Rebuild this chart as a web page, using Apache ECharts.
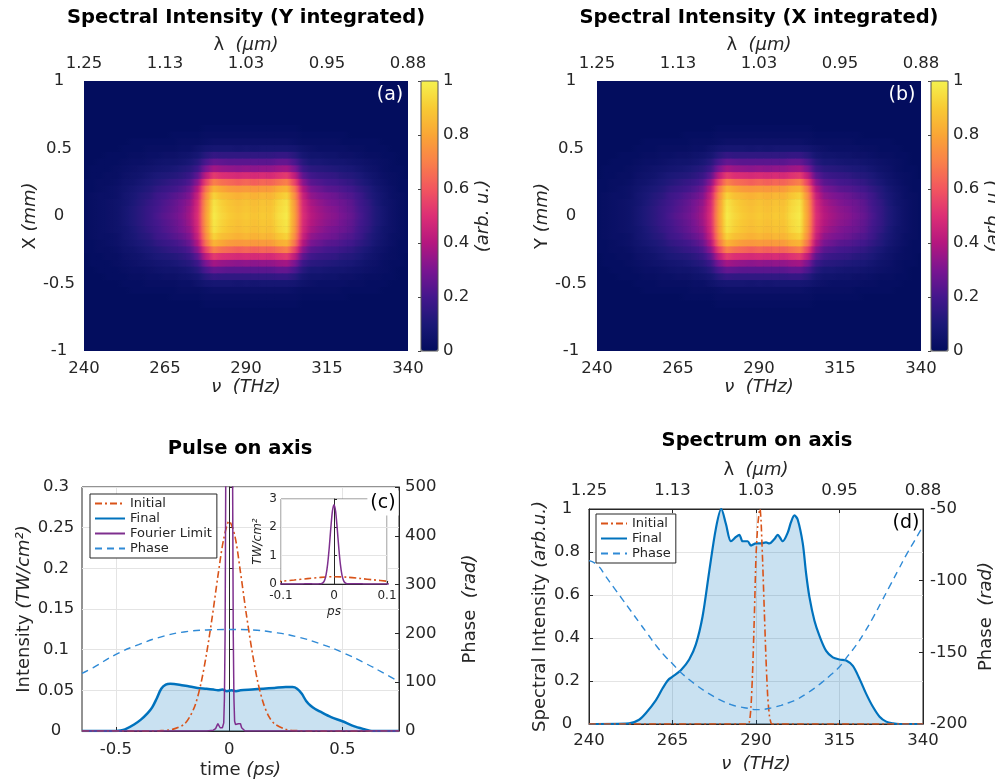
<!DOCTYPE html>
<html>
<head>
<meta charset="utf-8">
<title>Spectral broadening</title>
<script src="https://cdn.jsdelivr.net/npm/echarts@6/dist/echarts.min.js"></script>
<style>
  html, body { margin: 0; padding: 0; background: #ffffff; }
  #chart { width: 995px; height: 782px; }
</style>
</head>
<body>
<div id="chart"></div>
<script>
// ---------- shared frequency / wavelength ticks ----------
const nuTicks = [240, 265, 290, 315, 340];
const lambdaLabels = ['1.25', '1.13', '1.03', '0.95', '0.88'];
const pulseTimeTicks = [-0.5, 0, 0.5];

// ---------- spectral intensity maps (frequency columns x transverse rows) ----------
const mapNu = [240, 242.5, 245, 247.5, 250, 252.5, 255, 257.5, 260, 262.5, 265, 267.5, 270, 272.5, 275,
  277.5, 280, 282.5, 285, 287.5, 290, 292.5, 295, 297.5, 300, 302.5, 305, 307.5, 310, 312.5, 315, 317.5,
  320, 322.5, 325, 327.5, 330, 332.5, 335, 337.5, 340];
const mapPos = [0.65, 0.6, 0.55, 0.5, 0.45, 0.4, 0.35, 0.3, 0.25, 0.2, 0.15, 0.1, 0.05, 0,
  -0.05, -0.1, -0.15, -0.2, -0.25, -0.3, -0.35, -0.4, -0.45, -0.5, -0.55, -0.6, -0.65];

const row000 = [0.01,0.02,0.03,0.04,0.05,0.08,0.11,0.14,0.17,0.21,0.24,0.27,0.31,0.37,0.50,0.78,0.98,0.93,0.90,0.88,0.90,0.88,0.90,0.89,0.95,0.98,0.78,0.50,0.41,0.37,0.34,0.32,0.29,0.26,0.21,0.16,0.11,0.07,0.04,0.02,0.01];
const row005 = [0.01,0.02,0.03,0.04,0.05,0.08,0.11,0.14,0.17,0.20,0.23,0.26,0.30,0.36,0.49,0.77,0.97,0.92,0.89,0.87,0.89,0.87,0.89,0.88,0.94,0.97,0.77,0.49,0.40,0.36,0.33,0.31,0.28,0.25,0.20,0.16,0.11,0.07,0.04,0.02,0.01];
const row010 = [0.01,0.02,0.03,0.04,0.05,0.07,0.10,0.13,0.16,0.19,0.22,0.25,0.29,0.34,0.48,0.76,0.96,0.91,0.88,0.86,0.88,0.86,0.88,0.87,0.93,0.96,0.76,0.48,0.38,0.34,0.31,0.29,0.27,0.24,0.19,0.15,0.10,0.06,0.04,0.02,0.01];
const row015 = [0.01,0.02,0.03,0.03,0.04,0.07,0.09,0.12,0.14,0.18,0.20,0.23,0.26,0.31,0.45,0.73,0.92,0.87,0.85,0.83,0.85,0.83,0.85,0.84,0.89,0.92,0.73,0.45,0.34,0.31,0.29,0.27,0.24,0.22,0.18,0.13,0.09,0.06,0.03,0.02,0.01];
const row020 = [0.01,0.01,0.02,0.03,0.04,0.06,0.08,0.10,0.12,0.15,0.17,0.19,0.22,0.27,0.40,0.67,0.84,0.80,0.77,0.76,0.77,0.76,0.77,0.77,0.82,0.84,0.67,0.40,0.30,0.27,0.24,0.23,0.21,0.19,0.15,0.12,0.08,0.05,0.03,0.01,0.01];
const row025 = [0.01,0.01,0.02,0.02,0.03,0.05,0.06,0.08,0.10,0.12,0.14,0.16,0.18,0.22,0.33,0.55,0.70,0.66,0.64,0.62,0.64,0.62,0.64,0.63,0.67,0.70,0.55,0.33,0.24,0.22,0.20,0.19,0.17,0.15,0.12,0.09,0.06,0.04,0.02,0.01,0.01];
const row030 = [0,0.01,0.01,0.02,0.02,0.04,0.05,0.06,0.08,0.10,0.11,0.12,0.14,0.17,0.25,0.42,0.53,0.50,0.49,0.48,0.49,0.48,0.49,0.48,0.51,0.53,0.42,0.25,0.19,0.17,0.16,0.15,0.13,0.12,0.10,0.07,0.05,0.03,0.02,0.01,0];
const row035 = [0,0.01,0.01,0.01,0.02,0.03,0.04,0.05,0.06,0.07,0.08,0.09,0.11,0.13,0.18,0.30,0.37,0.35,0.34,0.33,0.34,0.33,0.34,0.34,0.36,0.37,0.30,0.18,0.14,0.13,0.12,0.11,0.10,0.09,0.07,0.05,0.04,0.02,0.01,0.01,0];
const row040 = [0,0,0.01,0.01,0.01,0.02,0.03,0.03,0.04,0.05,0.06,0.06,0.07,0.09,0.13,0.21,0.26,0.25,0.24,0.24,0.24,0.24,0.24,0.24,0.26,0.26,0.21,0.13,0.09,0.09,0.08,0.07,0.07,0.06,0.05,0.04,0.03,0.02,0.01,0,0];
const row045 = [0,0,0,0.01,0.01,0.01,0.02,0.02,0.03,0.03,0.04,0.04,0.05,0.06,0.08,0.13,0.16,0.15,0.15,0.15,0.15,0.15,0.15,0.15,0.16,0.16,0.13,0.08,0.06,0.06,0.05,0.05,0.04,0.04,0.03,0.02,0.02,0.01,0.01,0,0];
const row050 = [0,0,0,0,0,0.01,0.01,0.01,0.02,0.02,0.02,0.02,0.03,0.03,0.05,0.07,0.08,0.08,0.08,0.07,0.08,0.07,0.08,0.08,0.08,0.08,0.07,0.05,0.04,0.03,0.03,0.03,0.03,0.02,0.02,0.01,0.01,0.01,0,0,0];
const row055 = [0,0,0,0,0,0,0.01,0.01,0.01,0.01,0.01,0.01,0.02,0.02,0.02,0.03,0.04,0.04,0.04,0.04,0.04,0.04,0.04,0.04,0.04,0.04,0.03,0.02,0.02,0.02,0.02,0.02,0.01,0.01,0.01,0.01,0.01,0,0,0,0];
const row060 = [0,0,0,0,0,0,0,0,0,0,0,0.01,0.01,0.01,0.01,0.02,0.02,0.02,0.02,0.02,0.02,0.02,0.02,0.02,0.02,0.02,0.02,0.01,0.01,0.01,0.01,0.01,0.01,0,0,0,0,0,0,0,0];
const row065 = [0,0,0,0,0,0,0,0,0,0,0,0,0,0,0,0.01,0.01,0.01,0.01,0.01,0.01,0.01,0.01,0.01,0.01,0.01,0.01,0,0,0,0,0,0,0,0,0,0,0,0,0,0];

// rows ordered as mapPos (top to bottom); the beam is symmetric about the axis
const mapRows = [row065, row060, row055, row050, row045, row040, row035, row030, row025, row020, row015, row010, row005,
  row000, row005, row010, row015, row020, row025, row030, row035, row040, row045, row050, row055, row060, row065];

// ---------- pulse on axis ----------
const pulseTimeInitial = [-0.65, -0.35, -0.3, -0.25, -0.2, -0.175, -0.15, -0.125, -0.1, -0.075, -0.05, -0.025, 0,
  0.025, 0.05, 0.075, 0.1, 0.125, 0.15, 0.175, 0.2, 0.25, 0.3, 0.35, 0.75];
const pulseInitial = [0, 0, 0.0005, 0.002, 0.008, 0.017, 0.032, 0.058, 0.095, 0.14, 0.19, 0.235, 0.258,
  0.24, 0.195, 0.145, 0.1, 0.062, 0.035, 0.018, 0.009, 0.002, 0.0005, 0, 0];

const pulseTimeFinal = [-0.65, -0.5, -0.48, -0.46, -0.42, -0.39, -0.36, -0.34, -0.32, -0.3, -0.28, -0.26, -0.22, -0.18,
  -0.14, -0.1, -0.07, -0.05, -0.03, -0.01, 0.01, 0.03, 0.05, 0.1, 0.15, 0.2, 0.25, 0.28, 0.3, 0.32, 0.34, 0.36,
  0.38, 0.4, 0.45, 0.5, 0.55, 0.6, 0.63, 0.75];
const pulseFinal = [0, 0, 0.0005, 0.002, 0.008, 0.014, 0.022, 0.029, 0.04, 0.052, 0.057, 0.058, 0.057, 0.055,
  0.053, 0.052, 0.051, 0.05, 0.051, 0.049, 0.05, 0.049, 0.05, 0.051, 0.052, 0.053, 0.054, 0.054, 0.052, 0.046,
  0.037, 0.031, 0.027, 0.024, 0.017, 0.012, 0.006, 0.002, 0, 0];

const pulseTimeFourier = [-0.65, -0.1, -0.07, -0.06, -0.055, -0.05, -0.045, -0.04, -0.035, -0.03, -0.027, -0.024,
  -0.021, -0.018, -0.015, -0.012, -0.009, -0.006, -0.003, 0, 0.003, 0.006, 0.009, 0.012, 0.015, 0.018, 0.021,
  0.024, 0.028, 0.032, 0.036, 0.04, 0.045, 0.05, 0.055, 0.06, 0.07, 0.1, 0.75];
const pulseFourier = [0, 0, 0.001, 0.003, 0.006, 0.009, 0.008, 0.004, 0.002, 0.004, 0.006, 0.01,
  0.04, 0.12, 0.32, 0.7, 1.28, 1.98, 2.57, 2.8, 2.57, 1.98, 1.28, 0.7, 0.32, 0.12, 0.04,
  0.012, 0.008, 0.01, 0.006, 0.009, 0.007, 0.009, 0.004, 0.002, 0, 0, 0];

const pulseTimePhase = [-0.65, -0.6, -0.5, -0.4, -0.3, -0.2, -0.1, 0, 0.1, 0.2, 0.3, 0.4, 0.5, 0.6, 0.7, 0.75];
const pulsePhase = [118, 130, 157, 177, 193, 203, 207, 208, 207, 202, 193, 179, 161, 139, 114, 101];

// ---------- spectrum on axis ----------
const specNuFinal = [240, 252, 255, 257, 260, 262, 263.7, 265, 267.5, 270, 272, 274, 276, 278, 279.6, 281, 282.5,
  284, 285, 286, 287.5, 288.5, 290, 291.5, 293, 294, 295.5, 296.5, 298, 299.5, 300.5, 301.5, 302.5, 304, 305,
  306, 307.5, 309, 311, 313, 315, 317, 319, 321, 323, 325, 327, 329, 331, 333, 340];
const specFinal = [0, 0.003, 0.02, 0.05, 0.11, 0.165, 0.205, 0.22, 0.25, 0.3, 0.37, 0.5, 0.71, 0.91, 1.0, 0.93, 0.85,
  0.87, 0.88, 0.85, 0.85, 0.83, 0.84, 0.84, 0.845, 0.84, 0.86, 0.88, 0.85, 0.89, 0.94, 0.97, 0.95, 0.84, 0.7,
  0.59, 0.48, 0.41, 0.34, 0.31, 0.3, 0.295, 0.27, 0.21, 0.14, 0.08, 0.034, 0.011, 0.003, 0, 0];

const specNuInitial = [240, 287, 288, 288.5, 289, 289.5, 290, 290.5, 291, 291.2, 291.5, 292, 292.5, 293, 293.5,
  294, 294.5, 295, 340];
const specInitial = [0, 0, 0.01, 0.08, 0.25, 0.5, 0.78, 0.92, 0.99, 1.0, 0.95, 0.75, 0.52, 0.3, 0.13,
  0.04, 0.005, 0, 0];

const specNuPhase = [240, 242.5, 245, 247.5, 250, 252.5, 255, 257.5, 260, 262.5, 265, 267.5, 270, 272.5, 275,
  277.5, 280, 282.5, 285, 287.5, 290, 292.5, 295, 297.5, 300, 302.5, 305, 307.5, 310, 312.5, 315, 317.5,
  320, 322.5, 325, 327.5, 330, 332.5, 335, 337.5, 340];
const specPhase = [-86, -89, -97, -105, -113, -121, -129, -137, -145, -152, -158, -164, -169, -173.5, -177.5,
  -181, -184, -186.5, -188, -189, -190, -189.7, -188.5, -187, -185, -182.5, -179, -175, -170.5, -165.5, -160, -152.5,
  -145, -136, -126, -115, -104, -93, -82, -72, -62];

// ---------- styling ----------
const FONT = "'DejaVu Sans', sans-serif";
const INK = '#262626';
const GRIDLINE = '#e4e4e4';
const TICK_SIZE = 16.5;
const NAME_SIZE = 18;
const TITLE_FONT = 'bold 19.5px "DejaVu Sans"';
const C_FINAL = '#0072BD';
const C_INITIAL = '#D95319';
const C_FOURIER = '#7E2F8E';
const C_PHASE = '#2f8ad6';
const DASH_DOT = [7, 3, 2, 3];
const DASH = [7, 5];
const mapColors = ['#030d5e', '#1b1877', '#44178c', '#7a1591', '#b4177f', '#dc2e75',
  '#f2565f', '#f9804a', '#f9a636', '#f8ca34', '#f5f24e'];

const pairs = (xs, ys) => xs.map((x, i) => [x, ys[i]]);

const mapData = [];
mapRows.forEach((row, i) => row.forEach((v, j) => mapData.push([mapNu[j], mapPos[i], v])));
const CELL_NU = mapNu[1] - mapNu[0];
const CELL_POS = mapPos[0] - mapPos[1];

function mapColour(v) {
  return echarts.color.lerp(Math.max(0, Math.min(1, v)), mapColors);
}

// one map cell; shaded across its width towards its neighbours, like interpolated image shading
function renderMapCell(params, api) {
  const nCols = mapNu.length;
  const row = mapRows[Math.floor(params.dataIndex / nCols)];
  const j = params.dataIndex % nCols;
  const v = api.value(2);
  const vl = j > 0 ? row[j - 1] : v;
  const vr = j < nCols - 1 ? row[j + 1] : v;
  const centre = api.coord([api.value(0), api.value(1)]);
  const size = api.size([CELL_NU, CELL_POS]);
  const cs = params.coordSys;
  const shape = echarts.graphic.clipRectByRect(
    { x: centre[0] - size[0] / 2, y: centre[1] - size[1] / 2, width: size[0] + 0.6, height: size[1] + 0.6 },
    { x: cs.x, y: cs.y, width: cs.width, height: cs.height });
  if (!shape) return null;
  return {
    type: 'rect', shape: shape,
    style: {
      fill: {
        type: 'linear', x: 0, y: 0, x2: 1, y2: 0, global: false,
        colorStops: [
          { offset: 0, color: mapColour((vl + v) / 2) },
          { offset: 0.5, color: mapColour(v) },
          { offset: 1, color: mapColour((v + vr) / 2) }
        ]
      }
    }
  };
}

function txt(size, extra) {
  return Object.assign({ fontFamily: FONT, fontSize: size, color: INK }, extra || {});
}
function nameStyle(size) {
  return txt(size, {
    rich: {
      n: txt(size),
      i: txt(size, { fontStyle: 'italic' })
    }
  });
}
const noSplit = { show: false };
const split = { show: true, lineStyle: { color: GRIDLINE, width: 1 } };
const inTick = { show: true, inside: true, length: 4, lineStyle: { color: INK } };

// spectral map axes (bottom frequency, top wavelength, transverse position)
function mapXAxes(gridIndex) {
  return [
    {
      gridIndex, type: 'value', min: 240, max: 340, position: 'bottom',
      axisLine: { show: false }, axisTick: { show: false }, splitLine: noSplit,
      axisLabel: Object.assign(txt(TICK_SIZE), { customValues: nuTicks, margin: 9 }),
      name: '{i|ν}  {i|(THz)}', nameLocation: 'middle', nameGap: 27, nameTextStyle: nameStyle(NAME_SIZE)
    },
    {
      gridIndex, type: 'value', min: 240, max: 340, position: 'top',
      axisLine: { show: false }, axisTick: { show: false }, splitLine: noSplit,
      axisLabel: Object.assign(txt(TICK_SIZE), {
        customValues: nuTicks, margin: 9,
        formatter: (v) => lambdaLabels[nuTicks.indexOf(v)]
      }),
      name: '{n|λ}  {i|(μm)}', nameLocation: 'middle', nameGap: 27, nameTextStyle: nameStyle(NAME_SIZE)
    }
  ];
}
function mapYAxis(gridIndex, label, gap, margin) {
  return {
    gridIndex, type: 'value', min: -1, max: 1, interval: 0.5,
    axisLine: { show: false }, axisTick: { show: false }, splitLine: noSplit,
    axisLabel: Object.assign(txt(TICK_SIZE), { align: 'center', margin: margin }),
    name: label, nameLocation: 'middle', nameRotate: 90, nameGap: gap, nameTextStyle: nameStyle(NAME_SIZE)
  };
}
function colorbarAxes(gridIndex, gap) {
  return {
    x: { gridIndex, type: 'value', min: 0, max: 1, show: false },
    y: {
      gridIndex, type: 'value', min: 0, max: 1, interval: 0.2, position: 'right',
      axisLine: { show: false },
      axisTick: { show: true, inside: true, length: 3, lineStyle: { color: '#444' } },
      splitLine: noSplit,
      axisLabel: Object.assign(txt(TICK_SIZE), { align: 'left', margin: 5 }),
      name: '{i|(arb. u.)}', nameLocation: 'middle', nameRotate: 90, nameGap: gap, nameTextStyle: nameStyle(NAME_SIZE)
    }
  };
}
const cbA = colorbarAxes(1, 36);
const cbB = colorbarAxes(3, 36);

const legendBase = {
  orient: 'vertical', itemHeight: 14, itemGap: 2, selectedMode: false, backgroundColor: '#ffffff',
  borderColor: INK, borderWidth: 1, borderRadius: 0, padding: [3, 5, 3, 4], z: 10,
  itemStyle: { opacity: 0 },
  textStyle: txt(13)
};

const option = {
  animation: false,
  backgroundColor: '#ffffff',
  grid: [
    { left: 84, top: 81, width: 324, height: 270, show: true, backgroundColor: mapColors[0], borderWidth: 0, outerBoundsMode: 'none' },
    { left: 421, top: 81, width: 17, height: 270, show: true, z: 5, backgroundColor: 'transparent', borderColor: '#555', borderWidth: 1, outerBoundsMode: 'none' },
    { left: 597, top: 81, width: 324, height: 270, show: true, backgroundColor: mapColors[0], borderWidth: 0, outerBoundsMode: 'none' },
    { left: 931, top: 81, width: 17, height: 270, show: true, z: 5, backgroundColor: 'transparent', borderColor: '#555', borderWidth: 1, outerBoundsMode: 'none' },
    { left: 82, top: 487, width: 317, height: 244, show: true, borderColor: INK, borderWidth: 1, outerBoundsMode: 'none' },
    { left: 281, top: 499, width: 106, height: 85, show: true, z: 3, backgroundColor: '#ffffff', borderColor: '#777', borderWidth: 1, outerBoundsMode: 'none' },
    { left: 589, top: 509, width: 334, height: 215, show: true, borderColor: INK, borderWidth: 1, outerBoundsMode: 'none' }
  ],
  xAxis: [
    ...mapXAxes(0),               // 0, 1
    ...mapXAxes(2),               // 2, 3
    {                             // 4: pulse time
      gridIndex: 4, type: 'value', min: -0.65, max: 0.75,
      axisLine: { lineStyle: { color: INK } },
      axisTick: Object.assign({}, inTick, { customValues: pulseTimeTicks }),
      splitLine: split,
      axisLabel: Object.assign(txt(TICK_SIZE), { customValues: pulseTimeTicks, margin: 10 }),
      name: '{n|time }{i|(ps)}', nameLocation: 'middle', nameGap: 30, nameTextStyle: nameStyle(NAME_SIZE)
    },
    {                             // 5: inset time
      gridIndex: 5, type: 'value', min: -0.1, max: 0.1, interval: 0.1, z: 4,
      axisLine: { lineStyle: { color: INK } },
      axisTick: { show: true, inside: true, length: 3, lineStyle: { color: INK } },
      splitLine: split,
      axisLabel: Object.assign(txt(12), { margin: 6 }),
      name: '{i|ps}', nameLocation: 'middle', nameGap: 22, nameTextStyle: nameStyle(12)
    },
    {                             // 6: spectrum frequency
      gridIndex: 6, type: 'value', min: 240, max: 340,
      axisLine: { lineStyle: { color: INK } },
      axisTick: Object.assign({}, inTick, { customValues: nuTicks }),
      splitLine: split,
      axisLabel: Object.assign(txt(TICK_SIZE), { customValues: nuTicks, margin: 8 }),
      name: '{i|ν}  {i|(THz)}', nameLocation: 'middle', nameGap: 31, nameTextStyle: nameStyle(NAME_SIZE)
    },
    {                             // 7: spectrum wavelength
      gridIndex: 6, type: 'value', min: 240, max: 340, position: 'top',
      axisLine: { lineStyle: { color: INK } },
      axisTick: Object.assign({}, inTick, { customValues: nuTicks }),
      splitLine: noSplit,
      axisLabel: Object.assign(txt(TICK_SIZE), {
        customValues: nuTicks, margin: 10,
        formatter: (v) => lambdaLabels[nuTicks.indexOf(v)]
      }),
      name: '{n|λ}  {i|(μm)}', nameLocation: 'middle', nameGap: 30, nameTextStyle: nameStyle(NAME_SIZE)
    },
    cbA.x,                        // 8
    cbB.x                         // 9
  ],
  yAxis: [
    mapYAxis(0, '{n|X }{i|(mm)}', 41, 25),  // 0
    cbA.y,                                   // 1
    mapYAxis(2, '{n|Y }{i|(mm)}', 43, 26),  // 2
    cbB.y,                                   // 3
    {                                        // 4: pulse intensity
      gridIndex: 4, type: 'value', min: 0, max: 0.3, interval: 0.05,
      axisLine: { show: true, lineStyle: { color: INK } }, axisTick: inTick, splitLine: split,
      axisLabel: Object.assign(txt(TICK_SIZE), { align: 'center', margin: 26 }),
      name: '{n|Intensity }{i|(TW/cm²)}', nameLocation: 'middle', nameRotate: 90, nameGap: 49, nameTextStyle: nameStyle(NAME_SIZE)
    },
    {                                        // 5: pulse phase
      gridIndex: 4, type: 'value', min: 0, max: 500, interval: 100, position: 'right',
      axisLine: { show: true, lineStyle: { color: INK } }, axisTick: inTick, splitLine: noSplit,
      axisLabel: Object.assign(txt(TICK_SIZE), { align: 'left', margin: 6 }),
      name: '{n|Phase  }{i|(rad)}', nameLocation: 'middle', nameRotate: 90, nameGap: 62, nameTextStyle: nameStyle(NAME_SIZE)
    },
    {                                        // 6: inset intensity
      gridIndex: 5, type: 'value', min: 0, max: 3, interval: 1, z: 4,
      axisLine: { show: true, lineStyle: { color: INK } },
      axisTick: { show: true, inside: true, length: 3, lineStyle: { color: INK } },
      splitLine: split,
      axisLabel: Object.assign(txt(12), { align: 'right', margin: 4 }),
      name: '{i|TW/cm²}', nameLocation: 'middle', nameRotate: 90, nameGap: 17, nameTextStyle: nameStyle(12)
    },
    {                                        // 7: spectral intensity
      gridIndex: 6, type: 'value', min: 0, max: 1, interval: 0.2,
      axisLine: { show: true, lineStyle: { color: INK } }, axisTick: inTick, splitLine: split,
      axisLabel: Object.assign(txt(TICK_SIZE), { align: 'center', margin: 22 }),
      name: '{n|Spectral Intensity }{i|(arb.u.)}', nameLocation: 'middle', nameRotate: 90, nameGap: 40, nameTextStyle: nameStyle(NAME_SIZE)
    },
    {                                        // 8: spectral phase
      gridIndex: 6, type: 'value', min: -200, max: -50, interval: 50, position: 'right',
      axisLine: { show: true, lineStyle: { color: INK } }, axisTick: inTick, splitLine: noSplit,
      axisLabel: Object.assign(txt(TICK_SIZE), { align: 'left', margin: 7 }),
      name: '{n|Phase  }{i|(rad)}', nameLocation: 'middle', nameRotate: 90, nameGap: 54, nameTextStyle: nameStyle(NAME_SIZE)
    }
  ],
  visualMap: [
    { type: 'continuous', seriesIndex: 0, dimension: 2, min: 0, max: 1, inRange: { color: mapColors },
      calculable: false, hoverLink: false, left: 421, top: 81, itemWidth: 17, itemHeight: 270, padding: 0 },
    { type: 'continuous', seriesIndex: 1, dimension: 2, min: 0, max: 1, inRange: { color: mapColors },
      calculable: false, hoverLink: false, left: 931, top: 81, itemWidth: 17, itemHeight: 270, padding: 0 }
  ],
  legend: [
    Object.assign({}, legendBase, { data: ['Initial', 'Final', 'Fourier Limit', 'Phase'], left: 90, top: 494, itemWidth: 30 }),
    Object.assign({}, legendBase, { data: ['Initial', 'Final', 'Phase'], left: 596, top: 514, itemWidth: 26 })
  ],
  series: [
    // spectral intensity maps
    { type: 'custom', name: 'map-Y', xAxisIndex: 0, yAxisIndex: 0, renderItem: renderMapCell,
      data: mapData, encode: { x: 0, y: 1 }, silent: true },
    { type: 'custom', name: 'map-X', xAxisIndex: 2, yAxisIndex: 2, renderItem: renderMapCell,
      data: mapData, encode: { x: 0, y: 1 }, silent: true },

    // pulse on axis
    { type: 'line', name: 'Final', xAxisIndex: 4, yAxisIndex: 4, data: pairs(pulseTimeFinal, pulseFinal),
      symbol: 'none', smooth: 0.3, lineStyle: { color: C_FINAL, width: 2.5 }, itemStyle: { color: C_FINAL },
      areaStyle: { color: 'rgba(0,114,189,0.3)' } },
    { type: 'line', name: 'Initial', xAxisIndex: 4, yAxisIndex: 4, data: pairs(pulseTimeInitial, pulseInitial),
      symbol: 'none', smooth: 0.3, lineStyle: { color: C_INITIAL, width: 1.6, type: DASH_DOT }, itemStyle: { color: C_INITIAL } },
    { type: 'line', name: 'Fourier Limit', xAxisIndex: 4, yAxisIndex: 4, data: pairs(pulseTimeFourier, pulseFourier),
      symbol: 'none', lineStyle: { color: C_FOURIER, width: 1.5 }, itemStyle: { color: C_FOURIER } },
    { type: 'line', name: 'Phase', xAxisIndex: 4, yAxisIndex: 5, data: pairs(pulseTimePhase, pulsePhase),
      symbol: 'none', smooth: true, lineStyle: { color: C_PHASE, width: 1.4, type: DASH }, itemStyle: { color: C_PHASE } },

    // inset: the same pulses around t = 0
    { type: 'line', name: 'inset-initial', xAxisIndex: 5, yAxisIndex: 6, z: 5, data: pairs(pulseTimeInitial, pulseInitial),
      symbol: 'none', smooth: 0.3, lineStyle: { color: C_INITIAL, width: 1.6, type: DASH_DOT } },
    { type: 'line', name: 'inset-fourier', xAxisIndex: 5, yAxisIndex: 6, z: 5, data: pairs(pulseTimeFourier, pulseFourier),
      symbol: 'none', smooth: 0.2, lineStyle: { color: C_FOURIER, width: 1.5 } },

    // spectrum on axis
    { type: 'line', name: 'Final', xAxisIndex: 6, yAxisIndex: 7, data: pairs(specNuFinal, specFinal),
      symbol: 'none', smooth: 0.3, lineStyle: { color: C_FINAL, width: 2.2 }, itemStyle: { color: C_FINAL },
      areaStyle: { color: 'rgba(0,114,189,0.3)' } },
    { type: 'line', name: 'Initial', xAxisIndex: 6, yAxisIndex: 7, data: pairs(specNuInitial, specInitial),
      symbol: 'none', smooth: 0.2, lineStyle: { color: C_INITIAL, width: 1.6, type: DASH_DOT }, itemStyle: { color: C_INITIAL } },
    { type: 'line', name: 'Phase', xAxisIndex: 6, yAxisIndex: 8, data: pairs(specNuPhase, specPhase),
      symbol: 'none', smooth: true, lineStyle: { color: C_PHASE, width: 1.4, type: DASH }, itemStyle: { color: C_PHASE } }
  ],
  graphic: [
    { type: 'text', x: 246, y: 18, style: { text: 'Spectral Intensity (Y integrated)', font: TITLE_FONT, fill: '#000', align: 'center', verticalAlign: 'middle' } },
    { type: 'text', x: 759, y: 18, style: { text: 'Spectral Intensity (X integrated)', font: TITLE_FONT, fill: '#000', align: 'center', verticalAlign: 'middle' } },
    { type: 'text', x: 240, y: 449, style: { text: 'Pulse on axis', font: TITLE_FONT, fill: '#000', align: 'center', verticalAlign: 'middle' } },
    { type: 'text', x: 757, y: 441, style: { text: 'Spectrum on axis', font: TITLE_FONT, fill: '#000', align: 'center', verticalAlign: 'middle' } },
    { type: 'text', x: 390, y: 95, z: 20, style: { text: '(a)', font: '19px "DejaVu Sans"', fill: '#ffffff', align: 'center', verticalAlign: 'middle' } },
    { type: 'text', x: 902, y: 95, z: 20, style: { text: '(b)', font: '19px "DejaVu Sans"', fill: '#ffffff', align: 'center', verticalAlign: 'middle' } },
    { type: 'text', x: 383, y: 503, z: 100, style: { text: '(c)', font: '19px "DejaVu Sans"', fill: '#000', align: 'center', verticalAlign: 'middle', backgroundColor: '#ffffff', padding: [3, 3] } },
    { type: 'text', x: 906, y: 523, z: 20, style: { text: '(d)', font: '19px "DejaVu Sans"', fill: '#000', align: 'center', verticalAlign: 'middle' } }
  ]
};

const chart = echarts.init(document.getElementById('chart'), null, { renderer: 'canvas' });
chart.setOption(option);
</script>
</body>
</html>
